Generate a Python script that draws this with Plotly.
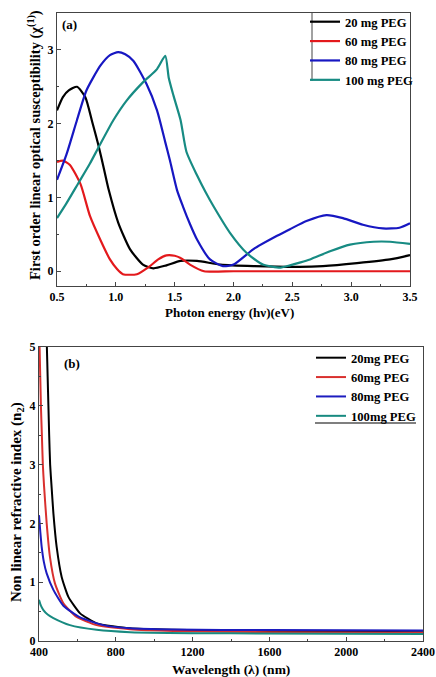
import plotly.graph_objects as go

W, H = 436, 677

# ---------------- Panel (a): first order linear optical susceptibility ----------------
energy_20 = [0.50, 0.55, 0.60, 0.67, 0.74, 0.80, 0.85, 0.90, 0.94, 1.02, 1.12, 1.23, 1.32, 1.43, 1.55,
             1.69, 1.89, 2.17, 2.56, 2.76, 3.05, 3.33, 3.50]
chi_20 = [2.18, 2.36, 2.45, 2.50, 2.36, 2.02, 1.72, 1.38, 1.10, 0.66, 0.30, 0.09, 0.04, 0.08, 0.14,
          0.14, 0.09, 0.07, 0.06, 0.07, 0.11, 0.16, 0.22]

energy_60 = [0.50, 0.55, 0.61, 0.70, 0.78, 0.87, 0.95, 1.01, 1.06, 1.18, 1.29, 1.36, 1.43, 1.50, 1.55,
             1.63, 1.75, 2.00, 2.50, 3.00, 3.50]
chi_60 = [1.48, 1.50, 1.44, 1.18, 0.75, 0.42, 0.16, 0.03, -0.04, -0.04, 0.07, 0.16, 0.215, 0.21, 0.18,
          0.09, 0.0, 0.0, 0.0, 0.0, 0.0]

energy_80 = [0.50, 0.58, 0.67, 0.75, 0.87, 0.95, 1.02, 1.08, 1.15, 1.26, 1.35, 1.42, 1.46, 1.52, 1.57,
             1.63, 1.69, 1.80, 1.91, 2.00, 2.17, 2.37, 2.48, 2.62, 2.79, 2.93, 3.10, 3.27, 3.41, 3.50]
chi_80 = [1.24, 1.58, 2.05, 2.45, 2.79, 2.93, 2.97, 2.94, 2.85, 2.54, 2.18, 1.75, 1.50, 1.10, 0.88,
          0.64, 0.43, 0.16, 0.07, 0.09, 0.30, 0.48, 0.57, 0.68, 0.76, 0.72, 0.63, 0.58, 0.59, 0.65]

energy_100 = [0.50, 0.58, 0.68, 0.78, 0.86, 0.98, 1.09, 1.23, 1.35, 1.42, 1.45, 1.49, 1.55, 1.60, 1.69,
              1.76, 1.83, 1.97, 2.11, 2.25, 2.40, 2.48, 2.57, 2.65, 2.82, 2.99, 3.19, 3.33, 3.50]
chi_100 = [0.72, 0.92, 1.19, 1.46, 1.70, 2.05, 2.31, 2.56, 2.74, 2.92, 2.62, 2.38, 2.05, 1.62, 1.30,
           1.08, 0.88, 0.52, 0.25, 0.09, 0.05, 0.08, 0.12, 0.16, 0.27, 0.36, 0.40, 0.40, 0.37]

labels_a = ["20 mg PEG", "60 mg PEG", "80 mg PEG", "100 mg PEG"]

# ---------------- Panel (b): non linear refractive index ----------------
wl_20 = [436, 441, 445, 449, 453, 458, 466, 475, 492, 518, 553, 614, 700, 874, 1100, 1395, 1800, 2400]
n2_20 = [5.4, 5.0, 4.5, 4.0, 3.5, 3.0, 2.6, 2.17, 1.60, 1.09, 0.75, 0.47, 0.30, 0.215, 0.19, 0.175, 0.16, 0.15]

wl_60 = [400, 403, 410, 415, 420, 426, 440, 457, 483, 527, 596, 700, 874, 1100, 1600, 2400]
n2_60 = [5.3, 5.0, 4.0, 3.5, 3.0, 2.65, 2.0, 1.43, 0.98, 0.64, 0.41, 0.27, 0.20, 0.17, 0.15, 0.14]

wl_80 = [400, 407, 414, 425, 440, 475, 527, 614, 735, 874, 1100, 1600, 2400]
n2_80 = [2.14, 1.85, 1.60, 1.35, 1.15, 0.87, 0.60, 0.40, 0.27, 0.215, 0.195, 0.185, 0.18]

wl_100 = [400, 410, 422, 445, 475, 561, 700, 874, 1395, 2400]
n2_100 = [0.70, 0.60, 0.53, 0.45, 0.39, 0.27, 0.19, 0.15, 0.13, 0.12]

labels_b = ["20mg PEG", "60mg PEG", "80mg PEG", "100mg PEG"]

colors_a = ["#000000", "#e3191c", "#1717c2", "#178b83"]
colors_b = ["#000000", "#d9302e", "#1c1cbf", "#188a80"]

FONT = "Liberation Serif, Times New Roman, serif"


def px_x(p):
    return p / W


def px_y(p):
    return 1 - p / H


fig = go.Figure()

series_a = [(energy_20, chi_20), (energy_60, chi_60), (energy_80, chi_80), (energy_100, chi_100)]
for (xs, ys), name, c in zip(series_a, labels_a, colors_a):
    fig.add_trace(go.Scatter(x=xs, y=ys, mode="lines", name=name,
                             line=dict(color=c, width=2.2, shape="spline", smoothing=0.6),
                             xaxis="x", yaxis="y", legend="legend"))

series_b = [(wl_20, n2_20), (wl_60, n2_60), (wl_80, n2_80), (wl_100, n2_100)]
for (xs, ys), name, c in zip(series_b, labels_b, colors_b):
    fig.add_trace(go.Scatter(x=xs, y=ys, mode="lines", name=name,
                             line=dict(color=c, width=2, shape="spline", smoothing=0.5),
                             xaxis="x2", yaxis="y2", legend="legend2"))

tickfont = dict(family=FONT, size=12, color="black", weight="bold")
common = dict(showgrid=False, zeroline=False, showline=True, mirror=True, linecolor="#444444",
              linewidth=1, ticks="inside", ticklen=4, tickcolor="#444444", tickfont=tickfont,
              automargin=False)

legend_font = dict(family=FONT, size=12.6, color="black", weight="bold")

fig.update_layout(
    width=W, height=H, autosize=False,
    margin=dict(l=0, r=0, t=0, b=0, pad=0),
    paper_bgcolor="white", plot_bgcolor="white",
    showlegend=True,
    xaxis=dict(domain=[px_x(57), px_x(410)], anchor="y", range=[0.5, 3.5], dtick=0.5, tick0=0.5,
               tickformat=".1f", minor=dict(dtick=0.25, ticks="inside", ticklen=2, tickcolor="#444444"),
               **common),
    yaxis=dict(domain=[px_y(286), px_y(13)], anchor="x", range=[-0.2, 3.5], dtick=1, tick0=0,
               minor=dict(dtick=0.5, ticks="inside", ticklen=2, tickcolor="#444444"), **common),
    xaxis2=dict(domain=[px_x(39), px_x(423)], anchor="y2", range=[400, 2400], dtick=400, tick0=400,
                minor=dict(dtick=200, ticks="inside", ticklen=2, tickcolor="#444444"), **common),
    yaxis2=dict(domain=[px_y(641), px_y(347)], anchor="x2", range=[0, 5], dtick=1, tick0=0,
                minor=dict(dtick=0.5, ticks="inside", ticklen=2, tickcolor="#444444"), **common),
    legend=dict(x=px_x(305), y=px_y(7), xanchor="left", yanchor="top", bgcolor="rgba(0,0,0,0)",
                borderwidth=0, font=legend_font, itemwidth=30, tracegroupgap=0),
    legend2=dict(x=px_x(311), y=px_y(343), xanchor="left", yanchor="top", bgcolor="rgba(0,0,0,0)",
                 borderwidth=0, font=legend_font, itemwidth=30, tracegroupgap=0),
)

annotations = [
    dict(text="Photon energy (hν)(eV)", x=px_x(229), y=px_y(313), size=13),
    dict(text="Wavelength (λ) (nm)", x=px_x(231), y=px_y(669), size=13.5),
    dict(text="First order linear optical susceptibility (χ<sup>(1)</sup>)", x=px_x(34), y=px_y(145),
         textangle=-90, size=14.5),
    dict(text="Non linear refractive index (n<sub>2</sub>)", x=px_x(17), y=px_y(502), textangle=-90,
         size=15),
    dict(text="(a)", x=px_x(69), y=px_y(24), size=13),
    dict(text="(b)", x=px_x(72), y=px_y(363), size=13),
]
for a in annotations:
    size = a.pop("size")
    fig.add_annotation(xref="paper", yref="paper", showarrow=False, xanchor="center", yanchor="middle",
                       font=dict(family=FONT, size=size, color="black", weight="bold"), **a)

# legend frame fragments as in the original
fig.add_shape(type="line", xref="paper", yref="paper", x0=px_x(312), x1=px_x(312), y0=px_y(13), y1=px_y(81),
              line=dict(color="#444444", width=1))
fig.add_shape(type="line", xref="paper", yref="paper", x0=px_x(315), x1=px_x(416), y0=px_y(423), y1=px_y(423),
              line=dict(color="#555555", width=1.5))

fig.write_html("out.html")
